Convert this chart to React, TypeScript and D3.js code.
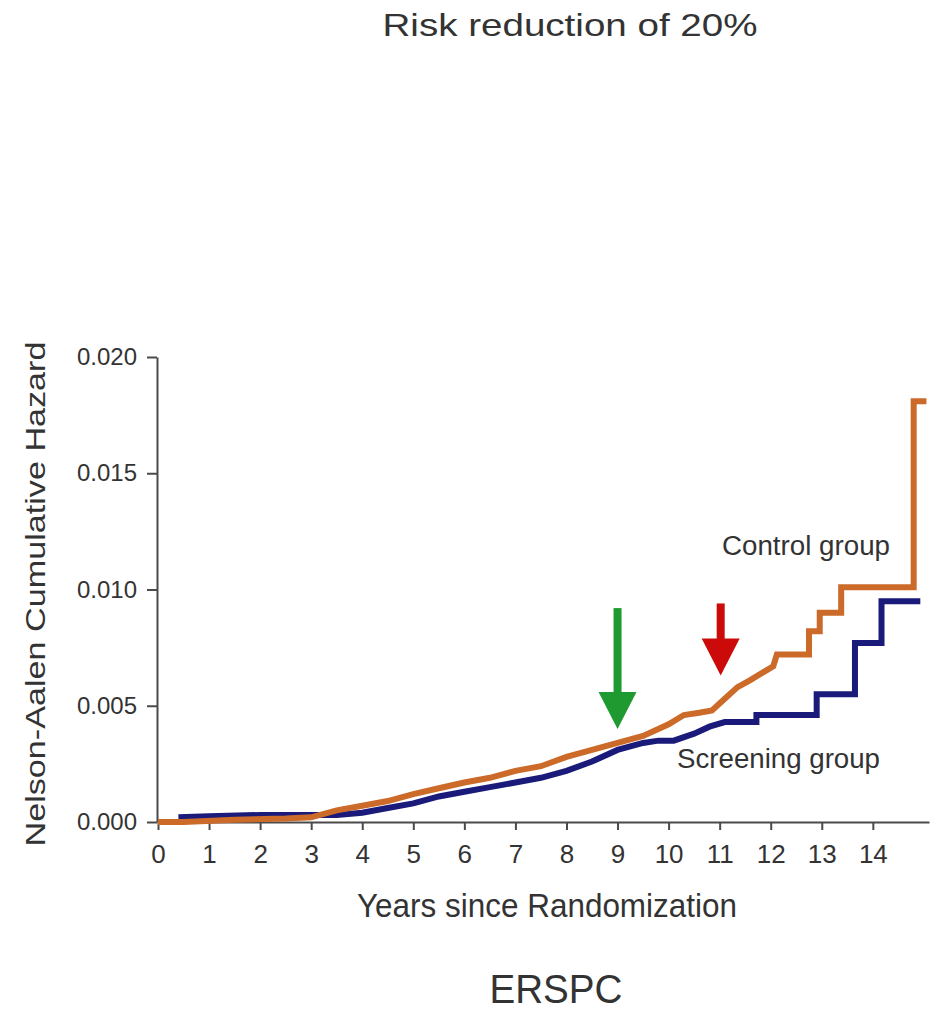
import React, { useRef, useEffect } from 'react'
import * as d3 from 'd3'

// Nelson-Aalen cumulative hazard
const controlYears = [0, 0.5, 1.5, 2.5, 3.0, 3.5, 4, 4.5, 5, 5.5, 6, 6.5, 7, 7.5, 8, 8.5, 9, 9.5, 10, 10.3, 10.6, 10.85, 11.1, 11.35, 11.6, 11.9, 12.05, 12.12, 12.75, 12.75, 12.96, 12.96, 13.38, 13.38, 14.8, 14.8, 15.05]
const controlHazard = [0, 0, 0.0001, 0.00015, 0.0002, 0.0005, 0.0007, 0.0009, 0.0012, 0.00145, 0.0017, 0.0019, 0.0022, 0.0024, 0.0028, 0.0031, 0.0034, 0.0037, 0.0042, 0.0046, 0.0047, 0.0048, 0.0053, 0.0058, 0.0061, 0.0065, 0.0067, 0.0072, 0.0072, 0.0082, 0.0082, 0.0090, 0.0090, 0.0101, 0.0101, 0.0181, 0.0181]

const screeningYears = [0.4, 1, 2, 3, 3.5, 4, 4.5, 5, 5.5, 6, 6.5, 7, 7.5, 8, 8.5, 9, 9.5, 9.8, 10.1, 10.5, 10.8, 11.1, 11.72, 11.72, 12.9, 12.9, 13.65, 13.65, 14.17, 14.17, 14.93]
const screeningHazard = [0.0002, 0.00025, 0.0003, 0.0003, 0.0003, 0.0004, 0.0006, 0.0008, 0.0011, 0.0013, 0.0015, 0.0017, 0.0019, 0.0022, 0.0026, 0.0031, 0.0034, 0.0035, 0.0035, 0.0038, 0.0041, 0.0043, 0.0043, 0.0046, 0.0046, 0.0055, 0.0055, 0.0077, 0.0077, 0.0095, 0.0095]

const xTicks = [0, 1, 2, 3, 4, 5, 6, 7, 8, 9, 10, 11, 12, 13, 14]
const yTicks = [0, 0.005, 0.01, 0.015, 0.02]

// annotation arrows (year, top, tip)
const arrowYears = [9, 11.02]
const arrowTops = [0.0092, 0.0094]
const arrowTips = [0.0040, 0.0063]
const arrowColors = ['#1f9a30', '#cc0a0a']

const font = '"Liberation Sans", Arial, sans-serif'
const textColor = '#333'

export default function App() {
  const canvas = useRef(null)

  useEffect(() => {
    const svg = d3.select(canvas.current)
    svg.selectAll('*').remove()

    const x = d3.scaleLinear().domain([0, 15.1]).range([158, 929])
    const y = d3.scaleLinear().domain([0, 0.02]).range([822, 357])

    // axes
    const xAxis = svg.append('g').attr('transform', `translate(0,${y(0)})`)
      .call(d3.axisBottom(x).tickValues(xTicks).tickFormat(d3.format('d')).tickSize(8).tickSizeOuter(0).tickPadding(15))
    const yAxis = svg.append('g').attr('transform', `translate(${x(0) - 1},0)`)
      .call(d3.axisLeft(y).tickValues(yTicks).tickFormat(d3.format('.3f')).tickSize(10).tickSizeOuter(0).tickPadding(10))

    ;[xAxis, yAxis].forEach(a => {
      a.select('.domain').attr('stroke', '#4a4a4a').attr('stroke-width', 2)
      a.selectAll('.tick line').attr('stroke', '#4a4a4a').attr('stroke-width', 2)
      a.selectAll('.tick text').attr('fill', textColor).style('font-family', font)
    })
    xAxis.selectAll('.tick text').style('font-size', '26px')
    yAxis.selectAll('.tick text').style('font-size', '24px')

    // curves
    const line = d3.line().x(d => x(d[0])).y(d => y(d[1]))
    const screening = screeningYears.map((t, i) => [t, screeningHazard[i]])
    const control = controlYears.map((t, i) => [t, controlHazard[i]])

    svg.append('path').datum(screening).attr('d', line)
      .attr('fill', 'none').attr('stroke', '#1a1a7a').attr('stroke-width', 6).attr('stroke-linejoin', 'miter')
    svg.append('path').datum(control).attr('d', line)
      .attr('fill', 'none').attr('stroke', '#cc6a2a').attr('stroke-width', 6).attr('stroke-linejoin', 'miter')

    // arrows
    arrowYears.forEach((t, i) => {
      const cx = x(t)
      const top = y(arrowTops[i])
      const tip = y(arrowTips[i])
      const headLen = 37
      const g = svg.append('g').attr('fill', arrowColors[i])
      g.append('rect').attr('x', cx - 4).attr('y', top).attr('width', 8).attr('height', tip - headLen - top + 1)
      g.append('path').attr('d', `M${cx - 19},${tip - headLen} L${cx + 19},${tip - headLen} L${cx},${tip} Z`)
    })

    // texts
    const addText = (txt, tx, ty, size, len, anchor = 'start', rotate = false) => {
      const t = svg.append('text').text(txt)
        .attr('x', tx).attr('y', ty)
        .attr('text-anchor', anchor)
        .attr('fill', textColor)
        .style('font-family', font).style('font-size', `${size}px`)
        .attr('textLength', len).attr('lengthAdjust', 'spacingAndGlyphs')
      if (rotate) t.attr('transform', `rotate(-90,${tx},${ty})`)
    }
    addText('Risk reduction of 20%', 570, 36, 32, 375, 'middle')
    addText('Control group', 722, 555, 27, 168)
    addText('Screening group', 677, 768, 28, 203)
    addText('Years since Randomization', 547, 917, 34, 380, 'middle')
    addText('Nelson-Aalen Cumulative Hazard', 45, 594, 28, 505, 'middle', true)
    addText('ERSPC', 556, 1003, 41, 133, 'middle')
  })

  return (
    <svg ref={canvas} width={934} height={1014}
      style={{ position: 'absolute', left: 0, top: 0, background: '#fff' }} />
  )
}
